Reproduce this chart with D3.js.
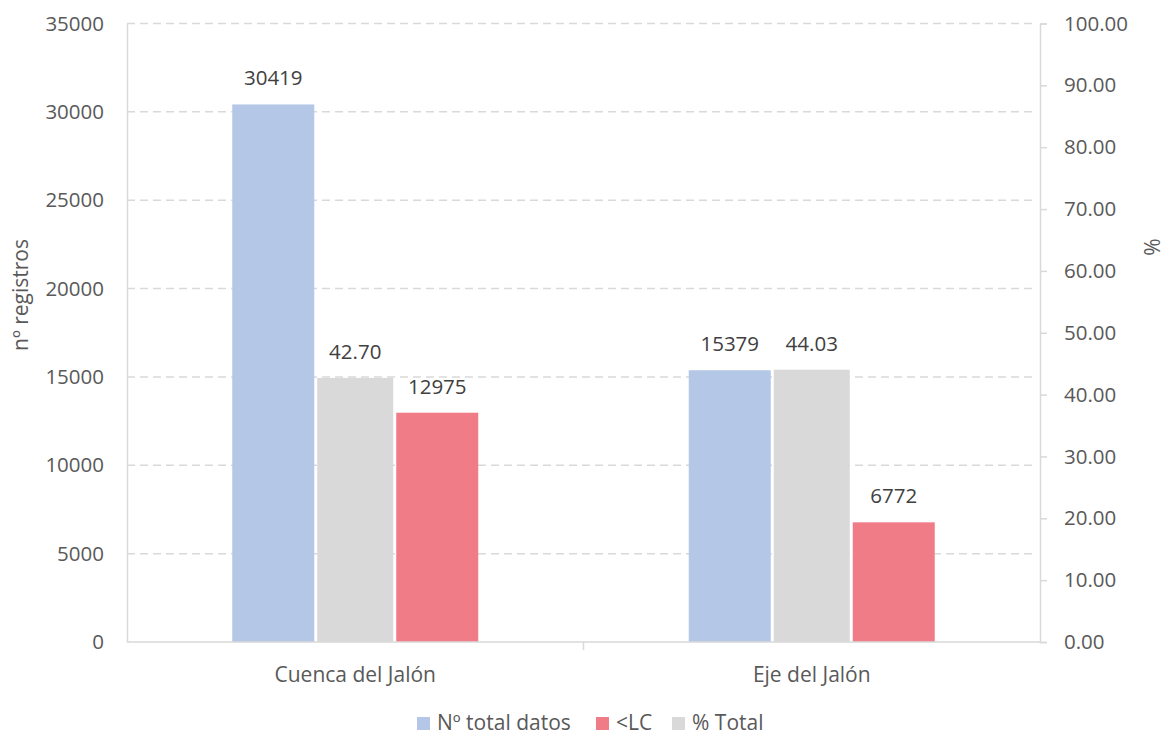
<!DOCTYPE html>
<html>
<head>
<meta charset="utf-8">
<script src="https://d3js.org/d3.v7.min.js"></script>
<style>
  body { margin: 0; background: #fff; }
  text { font-family: "Open Sans", sans-serif; }
</style>
</head>
<body>
<svg width="1165" height="735"></svg>
<script>
  // Data
  const categories = ['Cuenca del Jalón', 'Eje del Jalón'];
  const totalDatos = [30419, 15379];
  const lcDatos = [12975, 6772];
  const pctTotal = [42.70, 44.03];
  const leftTicks = [0, 5000, 10000, 15000, 20000, 25000, 30000, 35000];
  const rightTicks = [0, 10, 20, 30, 40, 50, 60, 70, 80, 90, 100];

  const series = [
    {key: 'total', name: 'Nº total datos', color: '#b4c7e7', values: totalDatos, axis: 'left', fmt: d3.format('d')},
    {key: 'pct', name: '% Total', color: '#d9d9d9', values: pctTotal, axis: 'right', fmt: d3.format('.2f')},
    {key: 'lc', name: '<LC', color: '#f07c88', values: lcDatos, axis: 'left', fmt: d3.format('d')}
  ];
  const legendOrder = ['total', 'lc', 'pct'];

  const plotLeft = 127, plotRight = 1040, plotTop = 23.5, plotBottom = 642;
  const fontSize = 20.5;
  const svg = d3.select('svg');

  const x0 = d3.scaleBand().domain(categories).range([plotLeft, plotRight]);
  const x1 = d3.scaleBand().domain(series.map(s => s.key)).range([0, 246]);
  const yL = d3.scaleLinear().domain([0, 35000]).range([plotBottom, plotTop]);
  const yR = d3.scaleLinear().domain([0, 100]).range([plotBottom, plotTop]);

  // Gridlines
  svg.append('g').selectAll('line')
    .data(leftTicks.filter(d => d > 0)).enter()
    .append('line')
    .attr('x1', plotLeft).attr('x2', plotRight - 3)
    .attr('y1', d => yL(d)).attr('y2', d => yL(d))
    .attr('stroke', '#d9d9d9').attr('stroke-width', 1.5)
    .attr('stroke-dasharray', '8,5');

  // Bars
  const groups = svg.append('g').selectAll('g')
    .data(categories).enter()
    .append('g')
    .attr('transform', d => 'translate(' + (x0(d) + x0.bandwidth() / 2 - 123) + ',0)');

  series.forEach(s => {
    const y = s.axis === 'left' ? yL : yR;
    const shrink = s.key === 'pct' ? 3 : 0;
    groups.append('rect')
      .attr('x', x1(s.key) + shrink)
      .attr('width', x1.bandwidth() - 2 * shrink)
      .attr('y', (d, i) => y(s.values[i]))
      .attr('height', (d, i) => plotBottom - y(s.values[i]))
      .attr('fill', s.color);
    groups.append('text')
      .attr('x', x1(s.key) + x1.bandwidth() / 2)
      .attr('y', (d, i) => y(s.values[i]) - 19)
      .attr('text-anchor', 'middle')
      .attr('font-size', fontSize)
      .attr('fill', '#404040')
      .text((d, i) => s.fmt(s.values[i]));
  });

  // Axes
  const axisColor = '#d9d9d9';
  const yAxisL = svg.append('g').attr('transform', 'translate(' + plotLeft + ',0)')
    .call(d3.axisLeft(yL).tickValues(leftTicks).tickSize(0).tickPadding(23).tickFormat(d3.format('d')));
  const yAxisR = svg.append('g').attr('transform', 'translate(' + plotRight + ',0)')
    .call(d3.axisRight(yR).tickValues(rightTicks).tickSize(7).tickPadding(17).tickFormat(d3.format('.2f')));
  const xAxis = svg.append('g').attr('transform', 'translate(0,' + plotBottom + ')')
    .call(d3.axisBottom(x0).tickSize(0).tickPadding(25));

  [yAxisL, yAxisR, xAxis].forEach(a => {
    a.select('.domain').attr('stroke', axisColor).attr('stroke-width', 1.5);
    a.selectAll('.tick line').attr('stroke', axisColor).attr('stroke-width', 1.5);
    a.selectAll('.tick text').attr('fill', '#595959').attr('font-size', fontSize)
      .attr('font-family', '"Open Sans", sans-serif');
  });
  xAxis.selectAll('.tick text').attr('font-size', 21);
  xAxis.select('.domain').attr('d', 'M' + plotLeft + ',0H' + plotRight);
  // category separator ticks
  svg.append('g').selectAll('line')
    .data(categories.slice(1)).enter()
    .append('line')
    .attr('x1', d => x0(d)).attr('x2', d => x0(d))
    .attr('y1', plotBottom).attr('y2', plotBottom + 8)
    .attr('stroke', axisColor).attr('stroke-width', 1.5);

  // Axis titles
  svg.append('text')
    .attr('transform', 'translate(28,295) rotate(-90)')
    .attr('text-anchor', 'middle').attr('font-size', 21).attr('fill', '#595959')
    .text('nº registros');
  svg.append('text')
    .attr('transform', 'translate(1160,247) rotate(-90)')
    .attr('text-anchor', 'middle').attr('font-size', 21).attr('fill', '#595959')
    .text('%');

  // Legend
  const legendX = {total: 417, lc: 596, pct: 672};
  const legend = svg.append('g').selectAll('g')
    .data(legendOrder.map(k => series.find(s => s.key === k))).enter()
    .append('g')
    .attr('transform', d => 'translate(' + legendX[d.key] + ',717)');
  legend.append('rect').attr('width', 13).attr('height', 13).attr('fill', d => d.color);
  legend.append('text').attr('x', 20).attr('y', 13)
    .attr('font-size', 21).attr('fill', '#595959')
    .text(d => d.name);
</script>
</body>
</html>
